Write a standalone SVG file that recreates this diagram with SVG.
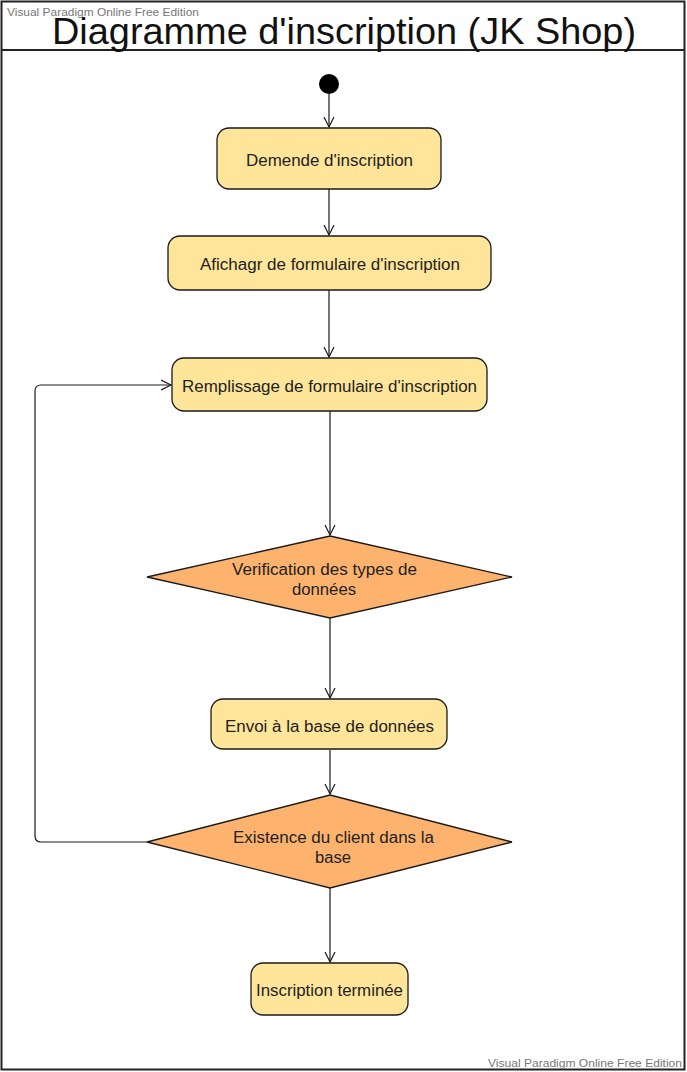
<svg xmlns="http://www.w3.org/2000/svg" width="687" height="1072" viewBox="0 0 687 1072">
<style>
.node{fill:#FFE59A;stroke:#1a1a1a;stroke-width:1.3}
.dec{fill:#FDB26E;stroke:#1a1a1a;stroke-width:1.3}
.lbl{font-family:"Liberation Sans",Arial,sans-serif;font-size:16px;fill:#222;text-anchor:middle}
.conn{fill:none;stroke:#1a1a1a;stroke-width:1.2}
.wm{font-family:"Liberation Sans",Arial,sans-serif;font-size:11.5px;fill:#777}
</style>
<defs>
<marker id="open" markerWidth="12" markerHeight="12" refX="10" refY="5" orient="auto" markerUnits="userSpaceOnUse" viewBox="0 0 12 10">
<path d="M0,0 L10,5 L0,10" fill="none" stroke="#1a1a1a" stroke-width="1.2"/>
</marker>
</defs>
<rect x="0" y="0" width="687" height="1072" fill="#fff"/>
<g id="frame">
<rect x="1.5" y="1.5" width="683" height="1068" fill="#fff" stroke="#222" stroke-width="2"/>
<line x1="1.5" y1="50" x2="684.5" y2="50" stroke="#222" stroke-width="2"/>
<text x="344" y="44" font-family="'Liberation Sans',Arial,sans-serif" font-size="36" fill="#111" text-anchor="middle" textLength="584" lengthAdjust="spacingAndGlyphs">Diagramme d'inscription (JK Shop)</text>
</g>
<text class="wm" x="7" y="16" textLength="192" lengthAdjust="spacingAndGlyphs">Visual Paradigm Online Free Edition</text>
<text class="wm" x="488" y="1067" textLength="194" lengthAdjust="spacingAndGlyphs">Visual Paradigm Online Free Edition</text>
<g id="connectors">
<line class="conn" x1="329" y1="94" x2="329" y2="127" marker-end="url(#open)"/>
<line class="conn" x1="329" y1="189" x2="329" y2="235" marker-end="url(#open)"/>
<line class="conn" x1="329" y1="290" x2="329" y2="357" marker-end="url(#open)"/>
<line class="conn" x1="330" y1="411" x2="330" y2="535" marker-end="url(#open)"/>
<line class="conn" x1="330" y1="618" x2="330" y2="698" marker-end="url(#open)"/>
<line class="conn" x1="330" y1="750" x2="330" y2="794" marker-end="url(#open)"/>
<line class="conn" x1="330" y1="888" x2="330" y2="962" marker-end="url(#open)"/>
<path class="conn" d="M147,842 L41,842 Q35,842 35,836 L35,391 Q35,385 41,385 L171,385" marker-end="url(#open)"/>
</g>
<g id="start"><circle cx="329" cy="84" r="10" fill="#000"/></g>
<g id="n1"><rect class="node" x="217" y="128" width="224" height="61" rx="12"/><text class="lbl" x="329.5" y="166" textLength="167" lengthAdjust="spacingAndGlyphs">Demende d'inscription</text></g>
<g id="n2"><rect class="node" x="168" y="236" width="323" height="54" rx="12"/><text class="lbl" x="330" y="270" textLength="260" lengthAdjust="spacingAndGlyphs">Afichagr de formulaire d'inscription</text></g>
<g id="n3"><rect class="node" x="172" y="358" width="315" height="53" rx="12"/><text class="lbl" x="329.5" y="392" textLength="295" lengthAdjust="spacingAndGlyphs">Remplissage de formulaire d'inscription</text></g>
<g id="d1"><polygon class="dec" points="330,536 512,577 330,618 147,577"/><text class="lbl" x="324.5" y="575" textLength="185" lengthAdjust="spacingAndGlyphs">Verification des types de</text><text class="lbl" x="324" y="595" textLength="64" lengthAdjust="spacingAndGlyphs">données</text></g>
<g id="n4"><rect class="node" x="211" y="699" width="236" height="50" rx="12"/><text class="lbl" x="329.5" y="732" textLength="209" lengthAdjust="spacingAndGlyphs">Envoi à la base de données</text></g>
<g id="d2"><polygon class="dec" points="330,795 512,842 330,888 147,842"/><text class="lbl" x="333.5" y="843" textLength="201" lengthAdjust="spacingAndGlyphs">Existence du client dans la</text><text class="lbl" x="333" y="863" textLength="36" lengthAdjust="spacingAndGlyphs">base</text></g>
<g id="n5"><rect class="node" x="251" y="963" width="157" height="52" rx="12"/><text class="lbl" x="329.5" y="996" textLength="147" lengthAdjust="spacingAndGlyphs">Inscription terminée</text></g>
</svg>
